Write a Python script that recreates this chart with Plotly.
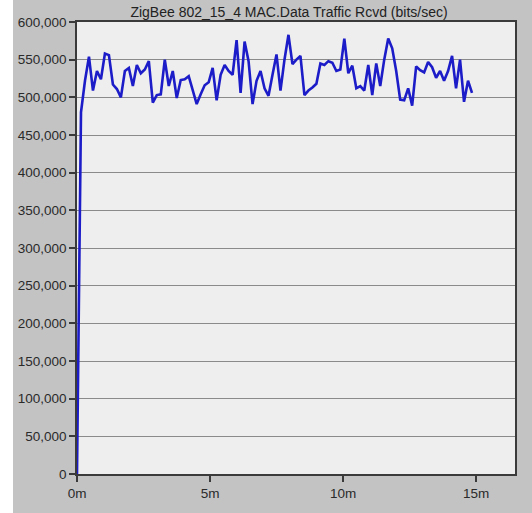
import plotly.graph_objects as go

# Received MAC data traffic, one sample every 0.15 min (9 s)
SAMPLE_INTERVAL_MIN = 0.15
traffic_bps = [
    0, 480000, 522000, 554000, 509000, 535000, 524000, 558000, 556000, 517000,
    511000, 500000, 535000, 539000, 515000, 543000, 532000, 537000, 548000, 493000,
    503000, 504000, 550000, 515000, 535000, 499000, 523000, 524000, 528000, 508000,
    491000, 504000, 516000, 520000, 539000, 496000, 530000, 543000, 535000, 530000,
    576000, 506000, 574000, 548000, 491000, 522000, 535000, 512000, 502000, 530000,
    557000, 509000, 550000, 583000, 544000, 550000, 555000, 503000, 509000, 513000,
    518000, 545000, 543000, 548000, 546000, 535000, 537000, 578000, 532000, 542000,
    512000, 515000, 509000, 543000, 503000, 545000, 515000, 550000, 578000, 565000,
    535000, 497000, 496000, 512000, 489000, 541000, 536000, 533000, 547000, 540000,
    526000, 535000, 522000, 535000, 555000, 512000, 550000, 494000, 522000, 506000,
]
time_min = [i * SAMPLE_INTERVAL_MIN for i in range(len(traffic_bps))]

y_tick_vals = [0, 50000, 100000, 150000, 200000, 250000, 300000,
               350000, 400000, 450000, 500000, 550000, 600000]
y_tick_text = ["0", "50,000", "100,000", "150,000", "200,000", "250,000", "300,000",
               "350,000", "400,000", "450,000", "500,000", "550,000", "600,000"]
x_tick_vals = [0, 5, 10, 15]
x_tick_text = ["0m", "5m", "10m", "15m"]

TITLE = "ZigBee 802_15_4 MAC.Data Traffic Rcvd (bits/sec)"

W, H = 532, 513
ML, MR, MT, MB = 77, 17, 22, 32
PW, PH = W - ML - MR, H - MT - MB

fig = go.Figure()
fig.add_trace(go.Scatter(
    x=time_min, y=traffic_bps, mode="lines",
    line=dict(color="#1c1cc8", width=2.6),
    showlegend=False,
))

font_family = "Liberation Sans, Arial, sans-serif"
axis_common = dict(
    showline=True, linecolor="#3a3a3a", linewidth=1.5, mirror=True,
    ticks="outside", ticklen=6, tickcolor="#3a3a3a", tickwidth=1.5,
    tickfont=dict(family=font_family, size=13.5, color="#2a2a2a"),
    zeroline=False,
)

fig.update_xaxes(
    range=[0, PW / 26.6], tickvals=x_tick_vals, ticktext=x_tick_text,
    showgrid=False, **axis_common,
)
fig.update_yaxes(
    range=[0, 600000], tickvals=y_tick_vals, ticktext=y_tick_text,
    showgrid=True, gridcolor="#8a8a8a", gridwidth=1, **axis_common,
)

# white strip along the left edge of the frame
fig.add_shape(
    type="rect", xref="paper", yref="paper", layer="below",
    x0=-0.3, x1=(13 - ML) / PW, y0=-0.3, y1=1.3,
    fillcolor="white", line=dict(width=0),
)

fig.update_layout(
    width=W, height=H,
    margin=dict(l=ML, r=MR, t=MT, b=MB, pad=0),
    paper_bgcolor="#c3c3c3",
    plot_bgcolor="#eeeeee",
    title=dict(
        text=TITLE, xref="container", yref="container",
        x=289 / W, y=1 - 12 / H, xanchor="center", yanchor="middle",
        font=dict(family=font_family, size=14, color="#222222"),
    ),
)

fig.write_html("out.html")
